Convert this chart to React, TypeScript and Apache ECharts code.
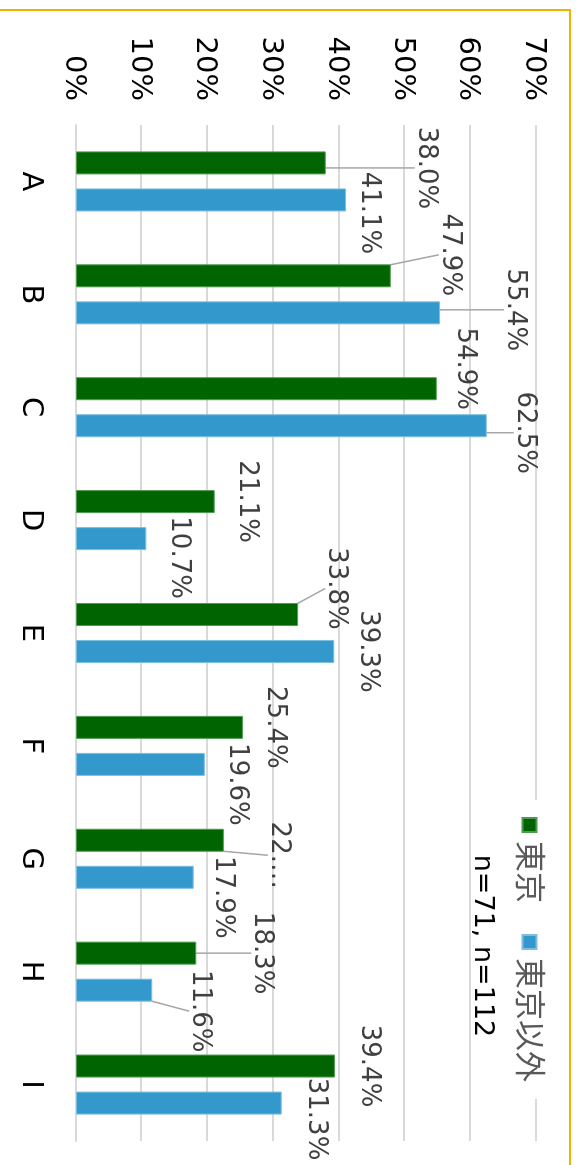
import React, { useEffect, useRef } from "react";
import * as echarts from "echarts";

// ---- data ----
const categories = ["A", "B", "C", "D", "E", "F", "G", "H", "I"];
const seriesNames = ["東京", "東京以外"];
const tokyo = [38.0, 47.9, 54.9, 21.1, 33.8, 25.4, 22.5, 18.3, 39.4];
const outside = [41.1, 55.4, 62.5, 10.7, 39.3, 19.6, 17.9, 11.6, 31.3];
const valueTicks = { min: 0, max: 70, interval: 10 };
const sampleNote = "n=71, n=112";

// ---- label layout (chart drawn unrotated, then page-rotated 90deg) ----
const tokyoShift = [[5, -68], [-21, -27], [-20, 4], [0, 0], [-26, -6], [0, 0], [15, -23], [0, -34], [0, -2]];
const outsideShift = [[13, 9], [-3, -43], [7, -6], [19, -1], [0, -2], [20, 0], [20, 3], [21, -16], [16, -2]];
const tokyoLeader = [true, true, false, false, true, false, true, true, false];
const outsideLeader = [false, true, true, false, false, false, false, true, false];
const tokyoTruncate = [false, false, false, false, false, false, true, false, false];

const FONT = '"DejaVu Sans", "Noto Sans CJK JP", sans-serif';

function makeSeries(name: string, values: number[], color: string, border: string, shifts: number[][], leaders: boolean[], trunc: boolean[] | null) {
  return {
    type: "bar",
    name,
    barWidth: 23,
    barGap: "61%",
    data: values.map((v, i) => {
      const item: any = { value: v, labelLine: { show: leaders[i] } };
      if (trunc && trunc[i]) item.label = { width: 75, overflow: "truncate", ellipsis: "…" };
      return item;
    }),
    itemStyle: { color, borderColor: border, borderWidth: 1 },
    label: {
      show: true,
      position: "top",
      distance: 21,
      formatter: (p: any) => Number(p.value).toFixed(1) + "%",
      fontSize: 26,
      color: "#404040",
      fontFamily: FONT,
    },
    labelLine: { show: true, lineStyle: { color: "#a6a6a6", width: 1.5 } },
    labelLayout: (p: any) => ({ dx: shifts[p.dataIndex][0], dy: shifts[p.dataIndex][1] }),
  };
}

export default function App() {
  const ref = useRef<HTMLDivElement>(null);
  useEffect(() => {
    if (!ref.current) return;
    const chart = echarts.init(ref.current, null, { renderer: "svg" });
    chart.setOption({
      animation: false,
      backgroundColor: "#fff",
      textStyle: { fontFamily: FONT },
      grid: { left: 125, top: 40, width: 1016, height: 460, containLabel: false },
      legend: {
        data: seriesNames,
        left: 800,
        top: 26,
        itemWidth: 14,
        itemHeight: 14,
        itemGap: 31,
        padding: [5, 17],
        backgroundColor: "#fff",
        icon: "rect",
        textStyle: { fontSize: 31, color: "#595959", fontFamily: FONT, padding: [0, 0, 0, 4] },
      },
      xAxis: {
        type: "category",
        data: categories,
        axisTick: { show: false },
        axisLine: { show: true, lineStyle: { color: "#d9d9d9", width: 2 } },
        axisLabel: { fontSize: 29, color: "#000", margin: 28, fontFamily: FONT },
      },
      yAxis: {
        type: "value",
        min: valueTicks.min,
        max: valueTicks.max,
        interval: valueTicks.interval,
        axisLine: { show: false },
        axisTick: { show: false },
        axisLabel: { formatter: "{value}%", fontSize: 29, color: "#000", margin: 24, fontFamily: FONT },
        splitLine: { lineStyle: { color: "#d9d9d9", width: 2 } },
      },
      graphic: [
        {
          type: "text",
          x: 946,
          y: 91,
          silent: true,
          style: { text: sampleNote, fontSize: 27, fill: "#000", align: "center", verticalAlign: "middle", fontFamily: FONT },
        },
        {
          type: "rect",
          silent: true,
          z: 100,
          shape: { x: 10, y: 6, width: 1400, height: 800 },
          style: { fill: "none", stroke: "#F2B300", lineWidth: 2 },
        },
      ],
      series: [
        makeSeries(seriesNames[0], tokyo, "#006400", "#4f9a4f", tokyoShift, tokyoLeader, tokyoTruncate),
        makeSeries(seriesNames[1], outside, "#3399CC", "#7cbde0", outsideShift, outsideLeader, null),
      ],
    });
    return () => chart.dispose();
  }, []);
  return (
    <div
      ref={ref}
      style={{
        position: "fixed",
        left: 0,
        top: 0,
        width: 1165,
        height: 576,
        transformOrigin: "0 0",
        transform: "translate(576px, 0px) rotate(90deg)",
      }}
    />
  );
}
